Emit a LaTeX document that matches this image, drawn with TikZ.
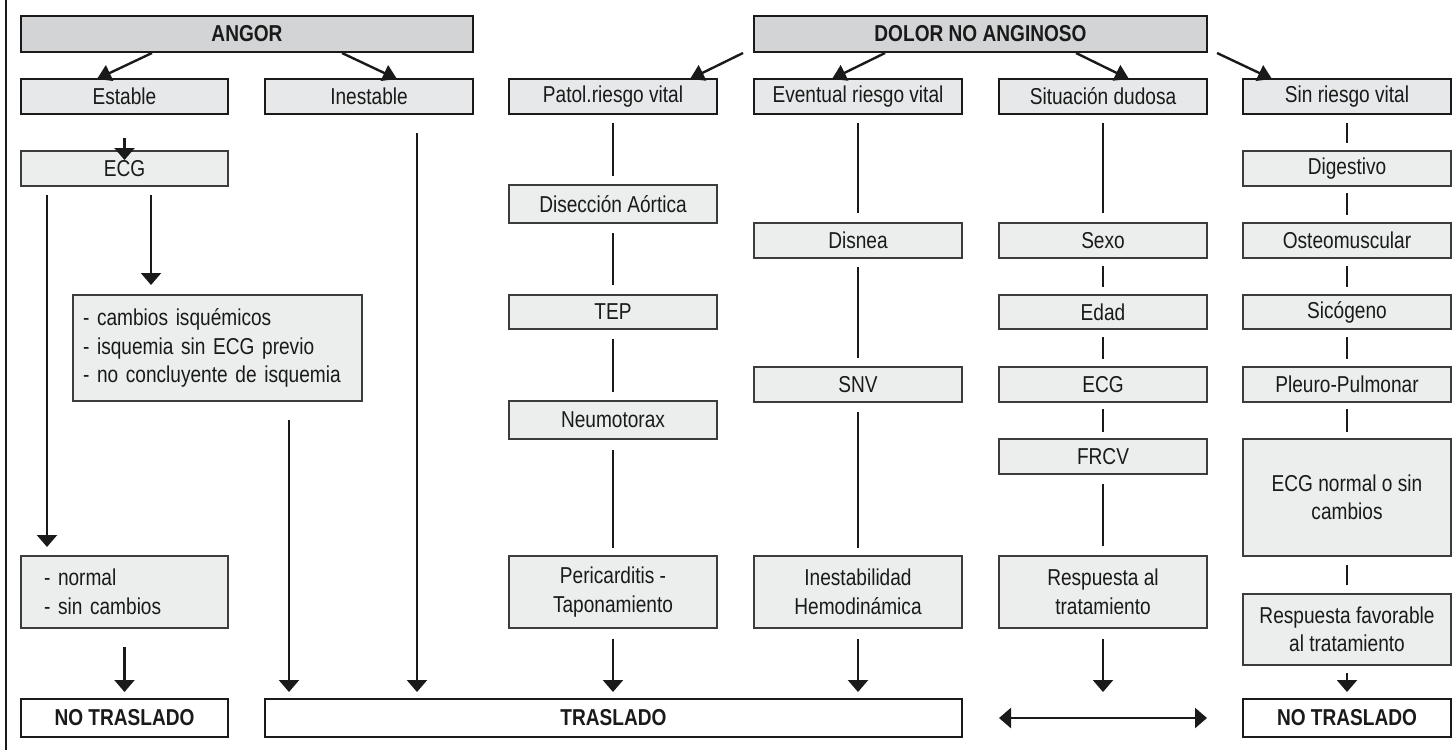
\documentclass[tikz,border=0pt]{standalone}
\usepackage{fontspec}
\setmainfont{Liberation Sans}[FakeStretch=0.83]
\usetikzlibrary{arrows.meta,calc}
\definecolor{ink}{HTML}{1A1A1A}
\definecolor{hdrfill}{HTML}{D3D4D6}
\definecolor{subfill}{HTML}{E7E8E9}
\definecolor{itemfill}{HTML}{ECEDED}
\definecolor{itemline}{HTML}{3C3C3C}
\begin{document}
\begin{tikzpicture}[x=1pt,y=-1pt,
  every node/.style={font=\fontsize{23}{28.5}\selectfont, text=ink,
    inner sep=0pt, outer sep=0pt, align=center},
  hdrbox/.style={draw=ink, line width=2.7pt, fill=hdrfill,
    font=\fontsize{23}{28.5}\selectfont\bfseries, minimum height=36},
  subbox/.style={draw=ink, line width=2.7pt, fill=subfill,
    minimum width=208, minimum height=35},
  itembox/.style={draw=itemline, line width=1.2pt, fill=itemfill,
    minimum width=207},
  endbox/.style={draw=ink, line width=2.7pt, fill=white,
    font=\fontsize{23}{28.5}\selectfont\bfseries, minimum height=38},
  link/.style={draw=ink, line width=2.4pt, shorten <=8pt, shorten >=8pt},
  tip/.style={draw=ink, line width=2.2pt,
    -{Triangle[length=12pt, width=20pt]}},
  slant/.style={draw=ink, line width=2.4pt,
    -{Triangle[length=14pt, width=17pt]}},
  both/.style={draw=ink, line width=2.4pt,
    {Triangle[length=12pt, width=20pt]}-{Triangle[length=12pt, width=20pt]}}
]
\useasboundingbox (0,0) rectangle (1455,750);

% left frame rule
\draw[ink, line width=1.3pt] (6,0) -- (6,750);

% top-level categories
\node[hdrbox, minimum width=452] (angor) at (247,34) {ANGOR};
\node[hdrbox, minimum width=453] (dolor) at (980.5,34) {DOLOR NO ANGINOSO};

% second level
\node[subbox, minimum width=207] (estable) at (124.5,96.5) {Estable};
\node[subbox] (inest)  at (369,96.5)  {Inestable};
\node[subbox] (patol)  at (613,96.5)  {Patol.riesgo vital};
\node[subbox] (event)  at (858,96.5)  {Eventual riesgo vital};
\node[subbox] (sitdud) at (1103,96.5) {Situación dudosa};
\node[subbox] (sinr)   at (1347,96.5) {Sin riesgo vital};

% column 1: angor estable
\node[itembox, minimum height=35] (ecga) at (124.5,168.5) {ECG};
\node[itembox, minimum width=289, minimum height=106, inner xsep=10pt,
      text width=269, align=left] (cambios) at (217.5,348)
  {- cambios isquémicos\\- isquemia sin ECG previo\\- no concluyente de isquemia};
\node[itembox, minimum height=72, inner xsep=23pt, text width=161,
      align=left] (normal) at (124.5,592) {- normal\\- sin cambios};

% column 3: patologia de riesgo vital
\node[itembox, minimum width=208, minimum height=38] (disec) at (613,204) {Disección Aórtica};
\node[itembox, minimum width=208, minimum height=34] (tep)   at (613,312) {TEP};
\node[itembox, minimum width=208, minimum height=38] (neumo) at (613,420) {Neumotorax};
\node[itembox, minimum width=208, minimum height=72] (peri)  at (613,592) {Pericarditis -\\Taponamiento};

% column 4: eventual riesgo vital
\node[itembox, minimum width=208, minimum height=35] (disnea) at (858,240.5) {Disnea};
\node[itembox, minimum width=208, minimum height=35] (snv)    at (858,384.5) {SNV};
\node[itembox, minimum width=208, minimum height=72] (hemo)   at (858,592)   {Inestabilidad\\Hemodinámica};

% column 5: situacion dudosa
\node[itembox, minimum width=208, minimum height=35] (sexo) at (1103,240.5) {Sexo};
\node[itembox, minimum width=208, minimum height=34] (edad) at (1103,312)   {Edad};
\node[itembox, minimum width=208, minimum height=35] (ecge) at (1103,384.5) {ECG};
\node[itembox, minimum width=208, minimum height=35] (frcv) at (1103,456.5) {FRCV};
\node[itembox, minimum width=208, minimum height=72] (resp) at (1103,592)   {Respuesta al\\tratamiento};

% column 6: sin riesgo vital
\node[itembox, minimum width=208, minimum height=35]  (digest) at (1347,168.5) {Digestivo};
\node[itembox, minimum width=208, minimum height=35]  (osteo)  at (1347,240.5) {Osteomuscular};
\node[itembox, minimum width=208, minimum height=34]  (sicog)  at (1347,312)   {Sicógeno};
\node[itembox, minimum width=208, minimum height=35]  (pleuro) at (1347,384.5) {Pleuro-Pulmonar};
\node[itembox, minimum width=208, minimum height=117] (ecgn)   at (1347,497.5) {ECG normal o sin\\cambios};
\node[itembox, minimum width=208, minimum height=71]  (respf)  at (1347,629.5) {Respuesta favorable\\al tratamiento};

% outcomes
\node[endbox, minimum width=207] (notra) at (124.5,718) {NO TRASLADO};
\node[endbox, minimum width=697] (tras)  at (613.5,718) {TRASLADO};
\node[endbox, minimum width=208] (notrb) at (1347,718)  {NO TRASLADO};
\coordinate (dud) at (1103,699);

% branches from the headers
\draw[slant] ([xshift=-95pt,yshift=-1pt]angor.south) -- ([xshift=-27.5pt]estable.north);
\draw[slant] ([xshift=95pt,yshift=-1pt]angor.south) -- ([xshift=28pt]inest.north);
\draw[slant] ([xshift=-237.5pt,yshift=-1pt]dolor.south) -- ([xshift=77pt]patol.north);
\draw[slant] ([xshift=-95.5pt,yshift=-1pt]dolor.south) -- ([xshift=-26pt]event.north);
\draw[slant] ([xshift=95.5pt,yshift=-1pt]dolor.south) -- ([xshift=26pt]sitdud.north);
\draw[slant] ([xshift=236.5pt,yshift=-1pt]dolor.south) -- ([xshift=-75pt]sinr.north);

% column 1 flow
\draw[tip, shorten <=24pt, shorten >=-9pt] (estable.south) -- (ecga.north);
\draw[tip, shorten <=9pt, shorten >=9pt]
  ([xshift=-77.5pt]ecga.south) -- ([xshift=-77.5pt]ecga.south |- normal.north);
\draw[tip, shorten <=9pt, shorten >=10pt]
  ([xshift=26.5pt]ecga.south) -- ([xshift=26.5pt]ecga.south |- cambios.north);
\draw[tip, shorten <=19pt, shorten >=7pt]
  (normal.south) -- (notra.north);
\draw[tip, shorten <=19pt, shorten >=7pt]
  ([xshift=71.5pt]cambios.south) -- ([xshift=71.5pt]cambios.south |- tras.north);
\draw[tip, shorten <=19pt, shorten >=7pt]
  ([xshift=48pt]inest.south) -- ([xshift=48pt]inest.south |- tras.north);

% column 3 flow
\draw[link, shorten <=9pt, shorten >=9pt] (patol) -- (disec);
\draw[link, shorten <=10pt, shorten >=10pt] (disec) -- (tep);
\draw[link, shorten <=10pt, shorten >=9pt] (tep) -- (neumo);
\draw[link, shorten <=11pt, shorten >=8pt] (neumo) -- (peri);
\draw[tip, shorten <=11pt, shorten >=7pt] (peri.south) -- (tras.north -| peri.south);

% column 4 flow
\draw[link, shorten <=9pt, shorten >=10pt] (event) -- (disnea);
\draw[link, shorten <=9pt, shorten >=9pt] (disnea) -- (snv);
\draw[link, shorten <=10pt, shorten >=8pt] (snv) -- (hemo);
\draw[tip, shorten <=11pt, shorten >=7pt] (hemo.south) -- (tras.north -| hemo.south);

% column 5 flow
\draw[link, shorten <=9pt, shorten >=10pt] (sitdud) -- (sexo);
\draw[link] (sexo) -- (edad);
\draw[link] (edad) -- (ecge);
\draw[link, shorten <=7pt, shorten >=7pt] (ecge) -- (frcv);
\draw[link, shorten <=10pt, shorten >=10pt] (frcv) -- (resp);
\draw[tip, shorten <=11pt, shorten >=7pt] (resp.south) -- (dud);

% column 6 flow
\draw[link, shorten <=9pt, shorten >=8pt] (sinr) -- (digest);
\draw[link, shorten <=7pt, shorten >=8pt] (digest) -- (osteo);
\draw[link] (osteo) -- (sicog);
\draw[link] (sicog) -- (pleuro);
\draw[link, shorten <=7pt, shorten >=7pt] (pleuro) -- (ecgn);
\draw[link, shorten <=9pt, shorten >=9pt] (ecgn) -- (respf);
\draw[tip, shorten <=8pt, shorten >=7pt] (respf.south) -- (notrb.north);

% undecided cases may go either way
\draw[both, shorten <=37pt, shorten >=36pt] (tras.east) -- (notrb.west);
\end{tikzpicture}
\end{document}
